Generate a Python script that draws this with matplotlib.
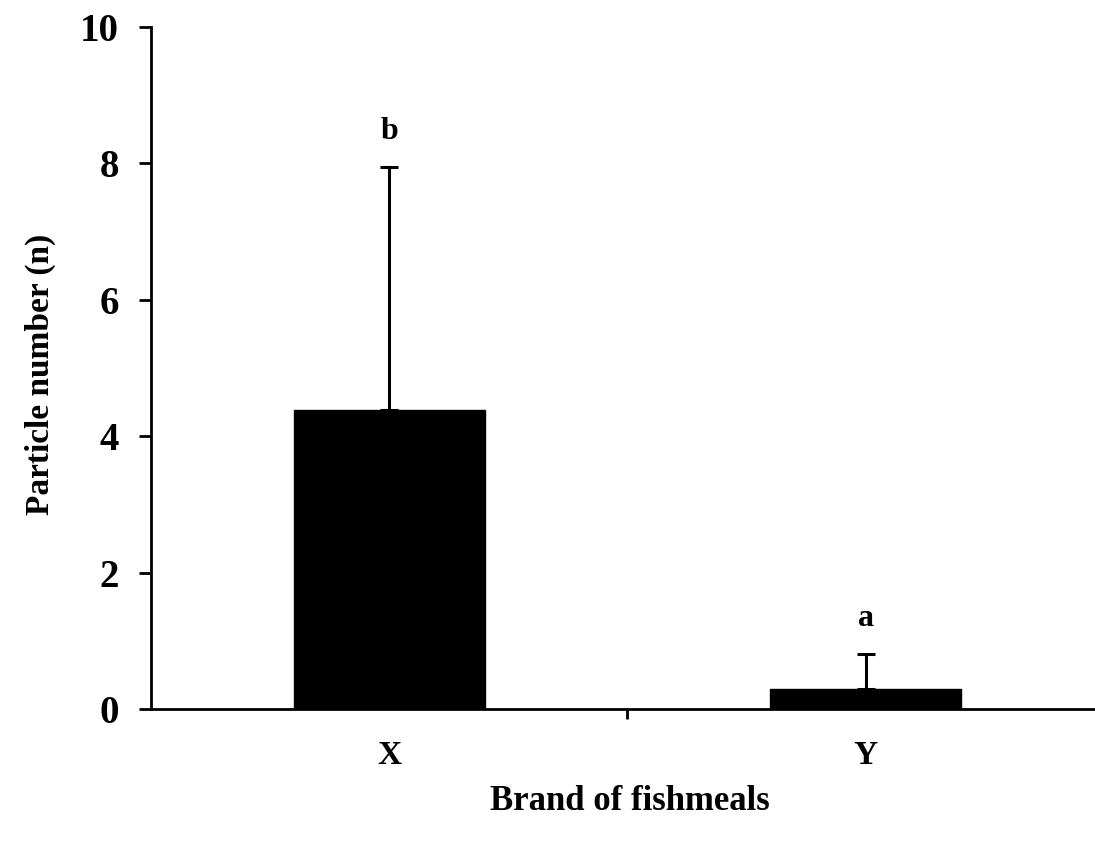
import numpy as np
import matplotlib
matplotlib.use('Agg')
import matplotlib.pyplot as plt

brands = ['X', 'Y']
means = [4.38, 0.30]
upper_err = [3.57, 0.50]
letters = ['b', 'a']

plt.rcParams['font.family'] = ['Liberation Serif', 'DejaVu Serif']
plt.rcParams['font.weight'] = 'bold'

fig = plt.figure(figsize=(10.95, 8.51), dpi=100)
ax = fig.add_axes([0.138, 0.1669, 0.870, 0.8014])

pos = np.arange(len(brands)) + 0.5
ax.bar(pos, means, width=0.4, color='black', edgecolor='black')
ax.errorbar(pos, means, yerr=[np.zeros(len(means)), upper_err], fmt='none',
            ecolor='black', elinewidth=2.2, capsize=6.5, capthick=2.2)

# significance letters above the error bars
for p, m, e, lab in zip(pos, means, upper_err, letters):
    ax.text(p, m + e + 0.52, lab, ha='center', va='center',
            fontsize=23, fontweight='bold')

ax.set_xlim(0, 2)
ax.set_ylim(0, 10)
ax.set_yticks([0, 2, 4, 6, 8, 10])
ax.set_xticks(pos)
ax.set_xticklabels(brands)
ax.set_xticks([1], minor=True)
ax.tick_params(axis='x', which='major', length=0, pad=22, labelsize=24)
ax.tick_params(axis='x', which='minor', length=7, width=2, direction='out')
ax.tick_params(axis='y', length=9, width=2, direction='out', pad=14, labelsize=28)
for lbl in ax.get_yticklabels() + ax.get_xticklabels():
    lbl.set_fontweight('bold')

for s in ['top', 'right']:
    ax.spines[s].set_visible(False)
for s in ['left', 'bottom']:
    ax.spines[s].set_linewidth(2)

ax.set_ylabel('Particle number (n)', fontsize=24, fontweight='bold')
ax.yaxis.set_label_coords(-0.10, 0.49, transform=ax.transAxes)
ax.set_xlabel('Brand of fishmeals', fontsize=25, fontweight='bold')
ax.xaxis.set_label_coords(0.503, -0.112, transform=ax.transAxes)

fig.savefig('out.png', dpi=100)
